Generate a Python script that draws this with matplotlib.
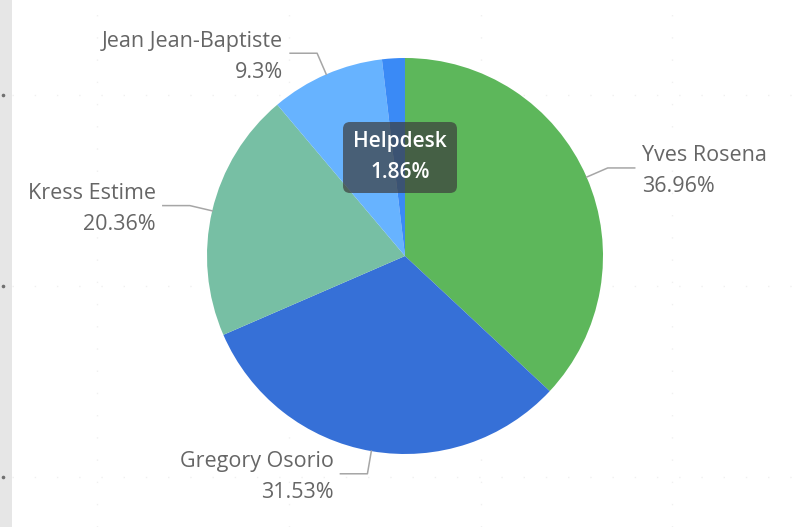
import numpy as np
import matplotlib
matplotlib.use("Agg")
import matplotlib.pyplot as plt
from matplotlib.patches import FancyBboxPatch, Rectangle

plt.rcParams["font.family"] = ["Open Sans", "DejaVu Sans"]

# share of tickets per assignee, clockwise from 12 o'clock
names = ["Yves Rosena", "Gregory Osorio", "Kress Estime", "Jean Jean-Baptiste", "Helpdesk"]
shares = [36.96, 31.53, 20.36, 9.3, 1.86]
colors = ["#5db75b", "#3670d7", "#77bfa4", "#67b3ff", "#3a8af6"]
highlighted = "Helpdesk"

W, H = 794, 527
CX, CY, R = 405, 256, 198


def py(y):
    # top-down pixel row -> axes y
    return H - y


fig = plt.figure(figsize=(W / 100, H / 100), dpi=100)
ax = fig.add_axes([0, 0, 1, 1])

# faint dotted canvas grid and the grey strip on the left
for gx in (97, 289, 481, 672):
    ax.plot([gx, gx], [0, H], color="#f0f0f0", lw=1, ls=(0, (1, 15)), zorder=0)
for gy in (95, 286, 477):
    ax.plot([12, W], [py(gy), py(gy)], color="#f0f0f0", lw=1, ls=(0, (1, 15)), zorder=0)
ax.add_patch(Rectangle((0, 0), 12, H, color="#e6e6e6", lw=0, zorder=0))
for gy in (95, 286, 477):
    ax.plot(3, py(gy), "o", ms=1.6, color="#707070", zorder=1)

wedges, _ = ax.pie(shares, colors=colors, startangle=90, counterclock=False,
                   center=(CX, py(CY)), radius=R, frame=True,
                   wedgeprops=dict(linewidth=0))
ax.set_xlim(0, W)
ax.set_ylim(0, H)
ax.set_aspect("equal")
ax.axis("off")

# leader lines and outside labels
for wedge, name, share in zip(wedges, names, shares):
    if name == highlighted:
        continue
    mid = np.deg2rad((wedge.theta1 + wedge.theta2) / 2)
    x0, y0 = CX + R * np.cos(mid), py(CY) + R * np.sin(mid)
    x1, y1 = CX + (R + 23) * np.cos(mid), py(CY) + (R + 23) * np.sin(mid)
    side = 1 if np.cos(mid) > 0 else -1
    x2 = x1 + side * 27
    ax.plot([x0, x1, x2], [y0, y1, y1], color="#a6a6a6", lw=1.1, zorder=3)
    ha = "left" if side > 0 else "right"
    tx = x2 + side * 7
    ax.text(tx, y1 + 12, name, ha=ha, va="center", fontsize=15.5, color="#666666")
    ax.text(tx, y1 - 19, f"{share:g}%", ha=ha, va="center", fontsize=15.5, color="#666666")

# hover tooltip for the small slice
i = names.index(highlighted)
box = FancyBboxPatch((343, py(193)), 114, 71, boxstyle="round,pad=0,rounding_size=7",
                     facecolor="#3c3c3c", alpha=0.7, lw=0, zorder=4)
ax.add_patch(box)
ax.text(400, py(142), names[i], ha="center", va="center", fontsize=15,
        color="white", fontweight="semibold", zorder=5)
ax.text(400, py(172), f"{shares[i]:g}%", ha="center", va="center", fontsize=15,
        color="white", fontweight="semibold", zorder=5)

fig.savefig("out.png", dpi=100)
